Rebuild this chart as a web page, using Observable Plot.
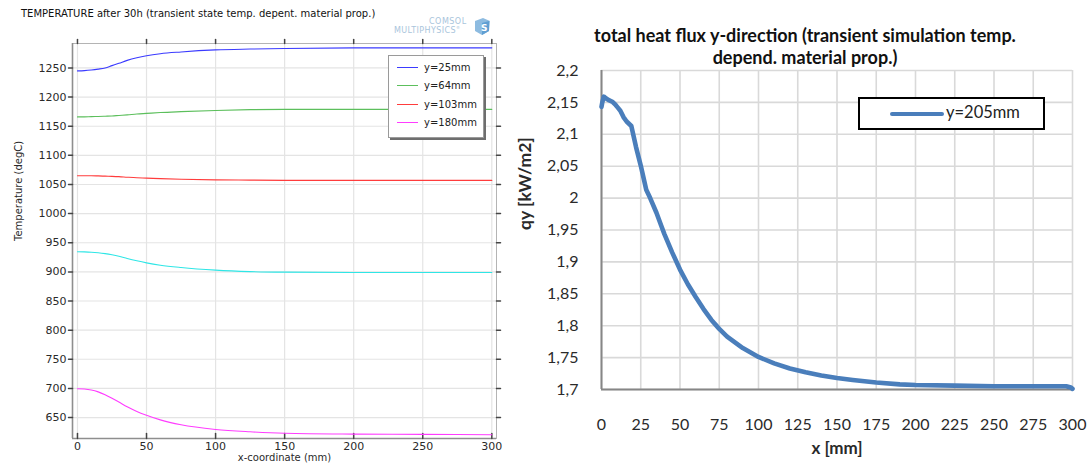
<!DOCTYPE html>
<html>
<head>
<meta charset="utf-8">
<script src="https://cdn.jsdelivr.net/npm/d3@7"></script>
<script src="https://cdn.jsdelivr.net/npm/@observablehq/plot@0.6"></script>
<style>
  body { margin: 0; background: #fff; }
  #wrap { position: relative; width: 1090px; height: 466px; overflow: hidden; background: #fff; }
  #wrap svg { position: absolute; top: 0; }
  .abs { position: absolute; white-space: nowrap; }
  #tempTitle { left: 21px; top: 8px; font: 10px "DejaVu Sans", sans-serif; color: #111; }
  #logo { left: 392px; top: 14px; width: 100px; height: 24px; }
  #logo .l1 { position: absolute; left: 37px; top: 3px; font: 8px "DejaVu Sans", sans-serif; letter-spacing: 0.5px; color: #a9c5dc; }
  #logo .l2 { position: absolute; left: 2px; top: 11px; font: 8px "DejaVu Sans", sans-serif; letter-spacing: 0.4px; color: #a9c5dc; }
  #tempLegend { left: 388px; top: 55px; width: 94px; height: 81px; border: 1px solid #9a9a9a; background: #fff; box-shadow: 2px 2px 0 #6e6e6e; }
  .tl-item { position: absolute; left: 0; height: 14px; font: 10px "DejaVu Sans", sans-serif; color: #222; }
  .tl-item i { position: absolute; left: 8px; top: 6px; width: 21px; height: 0; border-top: 1px solid; }
  .tl-item span { position: absolute; left: 35px; top: 0; line-height: 14px; }
  #fluxTitle { left: 580px; top: 25px; width: 450px; text-align: center; font: bold 18px Lato, sans-serif; line-height: 21.6px; color: #111; white-space: normal; }
  #fluxLegend { left: 858px; top: 97px; width: 183px; height: 29px; border: 2px solid #000; background: #fff; }
  #fluxLegend i { position: absolute; left: 30px; top: 12.5px; width: 54px; height: 0; border-top: 4.5px solid #4a7ebb; border-radius: 3px; }
  #fluxLegend span { position: absolute; left: 86px; top: 3px; line-height: 26px; font: 16.5px Lato, sans-serif; color: #222; }
</style>
</head>
<body>
<div id="wrap"></div>
<script>
// ---------- Temperature profiles after 30 h (left panel) ----------
const tempXTicks = [0, 50, 100, 150, 200, 250, 300];
const tempYTicks = [650, 700, 750, 800, 850, 900, 950, 1000, 1050, 1100, 1150, 1200, 1250];
const tempXDomain = [-3.6, 303.4];
const tempYDomain = [614, 1292];

// x positions (mm) shared by every profile
const tempX = [0, 5, 10, 15, 20, 25, 30, 36, 43, 50, 60, 75, 100, 125, 150, 200, 250, 300];
const tempY25 = [1245, 1245.5, 1246.5, 1248, 1250, 1254, 1258, 1263, 1267.5, 1271, 1274.5, 1277.5, 1281, 1282.5, 1283.5, 1284.5, 1284.5, 1284.5];
const tempY64 = [1166, 1166, 1166.5, 1166.8, 1167.2, 1167.6, 1168.5, 1169.5, 1171, 1172, 1173.5, 1175, 1177, 1178.5, 1179, 1179, 1179, 1179];
const tempY103 = [1065, 1065, 1065, 1064.7, 1064.3, 1064, 1063.5, 1062.5, 1061.5, 1061, 1060, 1059, 1058, 1057.5, 1057, 1057, 1057, 1057];
const tempYmid = [934.5, 934.3, 933.8, 932.8, 931.3, 929.3, 926.8, 923, 919, 915.5, 911.5, 907.5, 903, 900.5, 899.5, 899, 899, 899];
const tempY180 = [699.5, 699, 697.3, 694, 689, 683, 676.5, 668.5, 660.5, 654, 646, 637.5, 629.5, 625.5, 623, 621.5, 621, 620.5];

const tempSeries = ["y=25mm", "y=64mm", "y=103mm", "mid", "y=180mm"];
const tempColors = ["#3b3bff", "#5cbf5c", "#ff3c3c", "#2fe6e6", "#ff3cff"];
const tempValues = [tempY25, tempY64, tempY103, tempYmid, tempY180];
const tempLegendSeries = ["y=25mm", "y=64mm", "y=103mm", "y=180mm"];

const tempRows = tempSeries.flatMap((s, k) => tempX.map((x, i) => ({s, x, t: tempValues[k][i]})));

// short tick strokes drawn as vectors anchored on the frame edges
const tickShape = {draw(ctx, l) { ctx.moveTo(0, 0); ctx.lineTo(0, -l); }};

const tempPlot = Plot.plot({
  width: 520, height: 466,
  marginLeft: 72, marginRight: 24, marginTop: 43, marginBottom: 28,
  style: {fontFamily: "DejaVu Sans", fontSize: "11px", color: "#2a2a2a", background: "transparent"},
  x: {domain: tempXDomain},
  y: {domain: tempYDomain},
  color: {domain: tempSeries, range: tempColors},
  marks: [
    Plot.gridX(tempXTicks, {stroke: "#e4e4e4", strokeOpacity: 1, strokeWidth: 1.2}),
    Plot.gridY(tempYTicks, {stroke: "#e4e4e4", strokeOpacity: 1, strokeWidth: 1.2}),
    Plot.frame({stroke: "#b4b4b4"}),
    Plot.ruleX([tempXDomain[0]], {stroke: "#8e8e8e", strokeWidth: 1.6}),
    Plot.ruleY([tempYDomain[0]], {stroke: "#8e8e8e", strokeWidth: 1.6}),
    Plot.vector(tempXTicks, {x: d => d, frameAnchor: "bottom", length: 5, rotate: 0, anchor: "start", shape: tickShape, stroke: "#444"}),
    Plot.vector(tempXTicks, {x: d => d, frameAnchor: "top", length: 4, rotate: 0, anchor: "start", shape: tickShape, stroke: "#444"}),
    Plot.vector(tempYTicks, {y: d => d, frameAnchor: "left", length: 4, rotate: -90, anchor: "start", shape: tickShape, stroke: "#444"}),
    Plot.vector(tempYTicks, {y: d => d, frameAnchor: "right", length: 4, rotate: 90, anchor: "start", shape: tickShape, stroke: "#444"}),
    Plot.line(tempRows, {x: "x", y: "t", z: "s", stroke: "s", strokeWidth: 1.1, curve: "monotone-x"}),
    Plot.axisX(tempXTicks, {tickSize: 0, tickPadding: 4, label: null, fontSize: 11, tickFormat: d => String(d)}),
    Plot.axisY(tempYTicks, {tickSize: 0, tickPadding: 6, label: null, fontSize: 11, tickFormat: d => String(d)}),
    Plot.text(["x-coordinate (mm)"], {text: d => d, frameAnchor: "bottom", dy: 22, fontSize: 10}),
    Plot.text(["Temperature (degC)"], {text: d => d, frameAnchor: "left", rotate: -90, dx: -54, fontSize: 10})
  ]
});
tempPlot.style.left = "0px";

// ---------- Heat flux in y-direction (right panel) ----------
const fluxXTicks = [0, 25, 50, 75, 100, 125, 150, 175, 200, 225, 250, 275, 300];
const fluxYTicks = [1.7, 1.75, 1.8, 1.85, 1.9, 1.95, 2, 2.05, 2.1, 2.15, 2.2];
const fluxX = [0, 0.5, 1.5, 3, 5, 7, 9, 10, 12, 14, 16, 19, 22, 25, 28.5, 31, 35, 38, 40, 45, 50, 55, 60, 65, 70, 75, 80, 90, 100, 110, 120, 130, 140, 150, 160, 175, 190, 200, 225, 250, 275, 296, 299, 300];
const fluxQ = [2.143, 2.150, 2.159, 2.156, 2.153, 2.151, 2.146, 2.143, 2.137, 2.127, 2.120, 2.113, 2.080, 2.051, 2.013, 2.000, 1.977, 1.957, 1.944, 1.915, 1.888, 1.865, 1.845, 1.826, 1.809, 1.795, 1.783, 1.765, 1.751, 1.741, 1.733, 1.727, 1.722, 1.718, 1.715, 1.711, 1.708, 1.707, 1.706, 1.705, 1.705, 1.705, 1.703, 1.701];
const fluxSeries = "y=205mm";
const fluxRows = fluxX.map((x, i) => ({x, q: fluxQ[i]}));
const commaFormat = d => d3.format(".2~f")(d).replace(".", ",");

const fluxPlot = Plot.plot({
  width: 590, height: 466,
  marginLeft: 101, marginRight: 18, marginTop: 70, marginBottom: 77,
  style: {fontFamily: "Lato", fontSize: "15px", color: "#2a2a2a", background: "transparent"},
  x: {domain: [fluxXTicks[0], fluxXTicks[fluxXTicks.length - 1]]},
  y: {domain: [fluxYTicks[0], fluxYTicks[fluxYTicks.length - 1]]},
  marks: [
    Plot.gridX(fluxXTicks, {stroke: "#d9d9d9", strokeOpacity: 1, strokeWidth: 1.6}),
    Plot.gridY(fluxYTicks, {stroke: "#d9d9d9", strokeOpacity: 1, strokeWidth: 1.6}),
    Plot.ruleX([fluxXTicks[0]], {stroke: "#868686", strokeWidth: 2}),
    Plot.ruleY([fluxYTicks[0]], {stroke: "#868686", strokeWidth: 2}),
    Plot.line(fluxRows, {x: "x", y: "q", stroke: "#4a7ebb", strokeWidth: 4.6, strokeLinecap: "round", strokeLinejoin: "round"}),
    Plot.axisX(fluxXTicks, {tickSize: 0, tickPadding: 29, label: null, fontSize: 16}),
    Plot.axisY(fluxYTicks, {tickSize: 0, tickPadding: 23, label: null, fontSize: 16, tickFormat: commaFormat}),
    Plot.text(["x [mm]"], {text: d => d, frameAnchor: "bottom", dy: 64, fontSize: 17, fontWeight: "bold"}),
    Plot.text(["qy [kW/m2]"], {text: d => d, frameAnchor: "left", rotate: -90, dx: -76, fontSize: 17.5, fontWeight: "bold"})
  ]
});
fluxPlot.style.left = "500px";

// ---------- page assembly: titles, legends, logo ----------
const wrap = document.getElementById("wrap");
wrap.append(tempPlot, fluxPlot);

const tempTitle = document.createElement("div");
tempTitle.id = "tempTitle"; tempTitle.className = "abs";
tempTitle.textContent = "TEMPERATURE after 30h (transient state temp. depent. material prop.)";
wrap.append(tempTitle);

const logo = document.createElement("div");
logo.id = "logo"; logo.className = "abs";
logo.innerHTML = '<div class="l1">COMSOL</div><div class="l2">MULTIPHYSICS<sup style="font-size:4px">®</sup></div>' +
  '<svg width="20" height="20" style="position:absolute;left:80px;top:2px">' +
  '<path d="M3 5 L11 2 L18 5 L17 15 L10 19 L3 15 Z" fill="#8dbbe0"/>' +
  '<path d="M10 7 L17 5 L17 15 L10 19 Z" fill="#5f9fd3"/>' +
  '<text x="9" y="15" font-size="9" font-family="DejaVu Sans" font-weight="bold" fill="#fff">S</text></svg>';
wrap.append(logo);

const tempLegend = document.createElement("div");
tempLegend.id = "tempLegend"; tempLegend.className = "abs";
tempLegendSeries.forEach((s, i) => {
  const item = document.createElement("div");
  item.className = "tl-item";
  item.style.top = (5 + i * 18.3) + "px";
  const c = tempColors[tempSeries.indexOf(s)];
  item.innerHTML = `<i style="border-color:${c}"></i><span>${s}</span>`;
  tempLegend.append(item);
});
wrap.append(tempLegend);

const fluxTitle = document.createElement("div");
fluxTitle.id = "fluxTitle"; fluxTitle.className = "abs";
fluxTitle.innerHTML = "total heat flux y-direction (transient simulation temp.<br>depend. material prop.)";
wrap.append(fluxTitle);

const fluxLegend = document.createElement("div");
fluxLegend.id = "fluxLegend"; fluxLegend.className = "abs";
fluxLegend.innerHTML = `<i></i><span>${fluxSeries}</span>`;
wrap.append(fluxLegend);
</script>
</body>
</html>
